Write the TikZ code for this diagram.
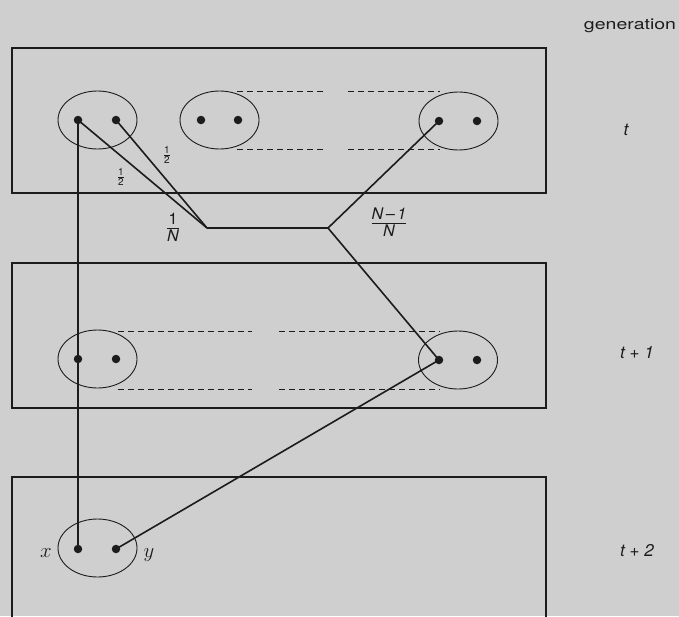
\documentclass[tikz,border=0pt]{standalone}
\usepackage{fontspec}
\newfontfamily\hv{TeX Gyre Heros}
\usetikzlibrary{shapes.geometric}
\definecolor{bg}{RGB}{207,207,207}
\definecolor{ink}{RGB}{28,28,28}
\begin{document}
\begin{tikzpicture}[x=1pt,y=-1pt,
  box/.style={draw=ink,line width=1.1pt},
  pair/.style={draw=ink,ellipse,line width=0.9pt,minimum width=79pt,minimum height=58pt,inner sep=0pt},
  dot/.style={circle,fill=ink,minimum size=8.5pt,inner sep=0pt},
  conn/.style={draw=ink,line width=1.6pt},
  thickconn/.style={draw=ink,line width=2.4pt},
  dsh/.style={draw=ink,line width=0.8pt,dash pattern=on 6pt off 4pt},
  gen/.style={font=\hv\itshape\fontsize{17}{19}\selectfont,inner sep=0pt},
  frac/.style={inner sep=0pt,text=ink},
  lab/.style={font=\fontsize{22}{24}\selectfont,inner sep=0pt,text=ink}]
\useasboundingbox (0,0) rectangle (679,616);
\fill[bg] (0,0) rectangle (679,616);
\clip (0,0) rectangle (679,616);
% generation boxes
\draw[box] (12,48) rectangle (546,193);
\draw[box] (12,263) rectangle (546,408);
\draw[box] (12,640) -- (12,477) -- (546,477) -- (546,640);
% pairs, top row
\node[pair] (e1) at (97.5,120) {};
\node[pair] (e2) at (219.5,120) {};
\node[pair] (e3) at (458.5,121) {};
% pairs, middle row
\node[pair] (m1) at (97.5,359) {};
\node[pair] (m3) at (458,360) {};
% pair, bottom row
\node[pair] (b1) at (97.5,548) {};
% dashed continuation lines
\draw[dsh] (237,91) -- (323,91);
\draw[dsh] (348,91) -- (440,91);
\draw[dsh] (237,149) -- (323,149);
\draw[dsh] (348,149) -- (440,149);
\draw[dsh] (118,331) -- (252,331);
\draw[dsh] (279,331) -- (440,331);
\draw[dsh] (118,389) -- (252,389);
\draw[dsh] (279,389) -- (440,389);
% junctions
\coordinate (j1) at (207,228);
\coordinate (j2) at (328,228);
% connectors
\draw[conn] (78,120) coordinate (a1) -- (78,549) coordinate (x1);
\draw[conn] (116,120) coordinate (a2) -- (j1);
\draw[conn] (a1) -- (j1);
\draw[thickconn] (j1) -- (j2);
\draw[conn] (j2) -- (439,121) coordinate (c1);
\draw[conn] (j2) -- (439,360) coordinate (n1);
\draw[conn] (116,549) coordinate (y1) -- (n1);
% dots
\node[dot] (da1) at (a1) {};
\node[dot] (da2) at (a2) {};
\node[dot] (db1) at (201,120) {};
\node[dot] (db2) at (238,120) {};
\node[dot] (dc1) at (c1) {};
\node[dot] (dc2) at (477,121) {};
\node[dot] (dm1) at (78,359) {};
\node[dot] (dm2) at (116,359) {};
\node[dot] (dn1) at (n1) {};
\node[dot] (dn2) at (477,360) {};
\node[dot] (dx) at (x1) {};
\node[dot] (dy) at (y1) {};
% labels
\node[lab] (lx) at (46,553) {$x$};
\node[lab] (ly) at (149,555) {$y$};
\node[frac] (h1) at (121,177) {$\frac{\hbox{\hv\fontsize{10}{11}\selectfont 1}}{\hbox{\hv\fontsize{10}{11}\selectfont 2}}$};
\node[frac] (h2) at (167,155) {$\frac{\hbox{\hv\fontsize{10}{11}\selectfont 1}}{\hbox{\hv\fontsize{10}{11}\selectfont 2}}$};
\node[frac] (fn) at (173,227) {$\displaystyle\frac{\hbox{\hv\fontsize{16}{18}\selectfont 1}}{\hbox{\hv\itshape\fontsize{16}{18}\selectfont N}}$};
\node[frac] (fm) at (389,222) {$\displaystyle\frac{\hbox{\hv\itshape\fontsize{16}{18}\selectfont N\,–\,1}}{\hbox{\hv\itshape\fontsize{16}{18}\selectfont N}}$};
\node[font=\hv\fontsize{15}{17}\selectfont,inner sep=0pt,text=ink] (gen) at (630,26) {\scalebox{1.3}[1]{generation}};
\node[gen,text=ink] (g0) at (626,130) {t};
\node[gen,text=ink] (g1) at (637,353) {t + 1};
\node[gen,text=ink] (g2) at (637,551) {t + 2};
\end{tikzpicture}
\end{document}
